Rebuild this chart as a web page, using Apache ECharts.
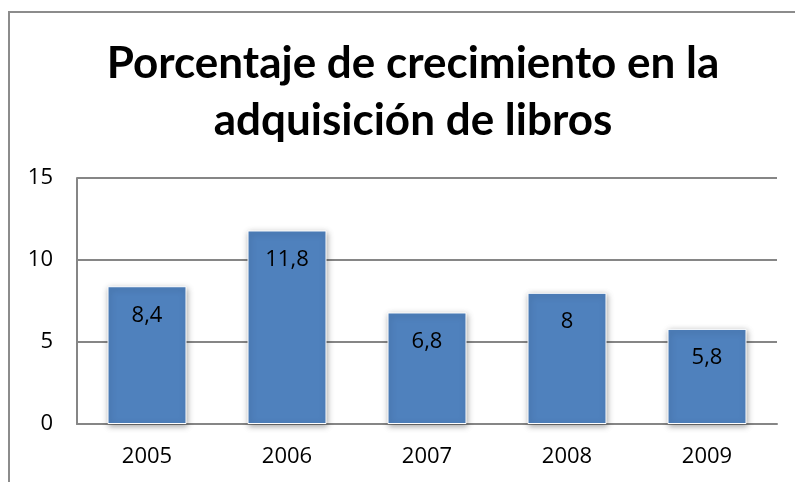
<!DOCTYPE html>
<html>
<head>
<meta charset="utf-8">
<script src="https://cdn.jsdelivr.net/npm/echarts@6/dist/echarts.min.js"></script>
<style>
  html, body { margin: 0; padding: 0; background: #fff; }
  #chart { width: 795px; height: 482px; }
</style>
</head>
<body>
<div id="chart"></div>
<script>
const titleText = 'Porcentaje de crecimiento en la\nadquisición de libros'
const years = ['2005', '2006', '2007', '2008', '2009']
const growth = [8.4, 11.8, 6.8, 8, 5.8]

const chart = echarts.init(document.getElementById('chart'))

chart.setOption({
  backgroundColor: '#fff',
  animation: false,
  title: {
    text: titleText,
    left: 408,
    textAlign: 'center',
    top: 30,
    textStyle: {
      fontFamily: 'Lato',
      fontWeight: 'bold',
      fontSize: 44,
      lineHeight: 57,
      color: '#000',
    },
  },
  graphic: [
    {
      type: 'polyline',
      shape: { points: [[9, 482], [9, 12], [795, 12]] },
      style: { stroke: '#8c8c8c', lineWidth: 2, fill: null },
    },
  ],
  grid: {
    left: 77,
    right: 18,
    top: 178,
    bottom: 58,
  },
  xAxis: {
    type: 'category',
    data: years,
    axisLine: { lineStyle: { color: '#868686', width: 2 } },
    axisTick: { show: false },
    axisLabel: {
      color: '#000',
      fontFamily: 'Open Sans',
      fontSize: 22,
      margin: 22,
    },
  },
  yAxis: {
    type: 'value',
    min: 0,
    max: 15,
    interval: 5,
    axisLine: { show: true, lineStyle: { color: '#868686', width: 2 } },
    axisTick: { show: false },
    axisLabel: {
      color: '#000',
      fontFamily: 'Open Sans',
      fontSize: 22,
      margin: 24,
    },
    splitLine: { lineStyle: { color: '#868686', width: 2 } },
  },
  series: [
    {
      type: 'bar',
      data: growth,
      barWidth: 79,
      itemStyle: {
        color: '#4f81bd',
        borderColor: '#ffffff',
        borderWidth: 1,
        shadowColor: 'rgba(0,0,0,0.35)',
        shadowBlur: 6,
        shadowOffsetX: 1,
        shadowOffsetY: 2,
      },
      label: {
        show: true,
        position: 'insideTop',
        distance: 18,
        color: '#000',
        fontFamily: 'Open Sans',
        fontSize: 22,
        formatter: p => String(p.value).replace('.', ','),
      },
    },
  ],
})
</script>
</body>
</html>
